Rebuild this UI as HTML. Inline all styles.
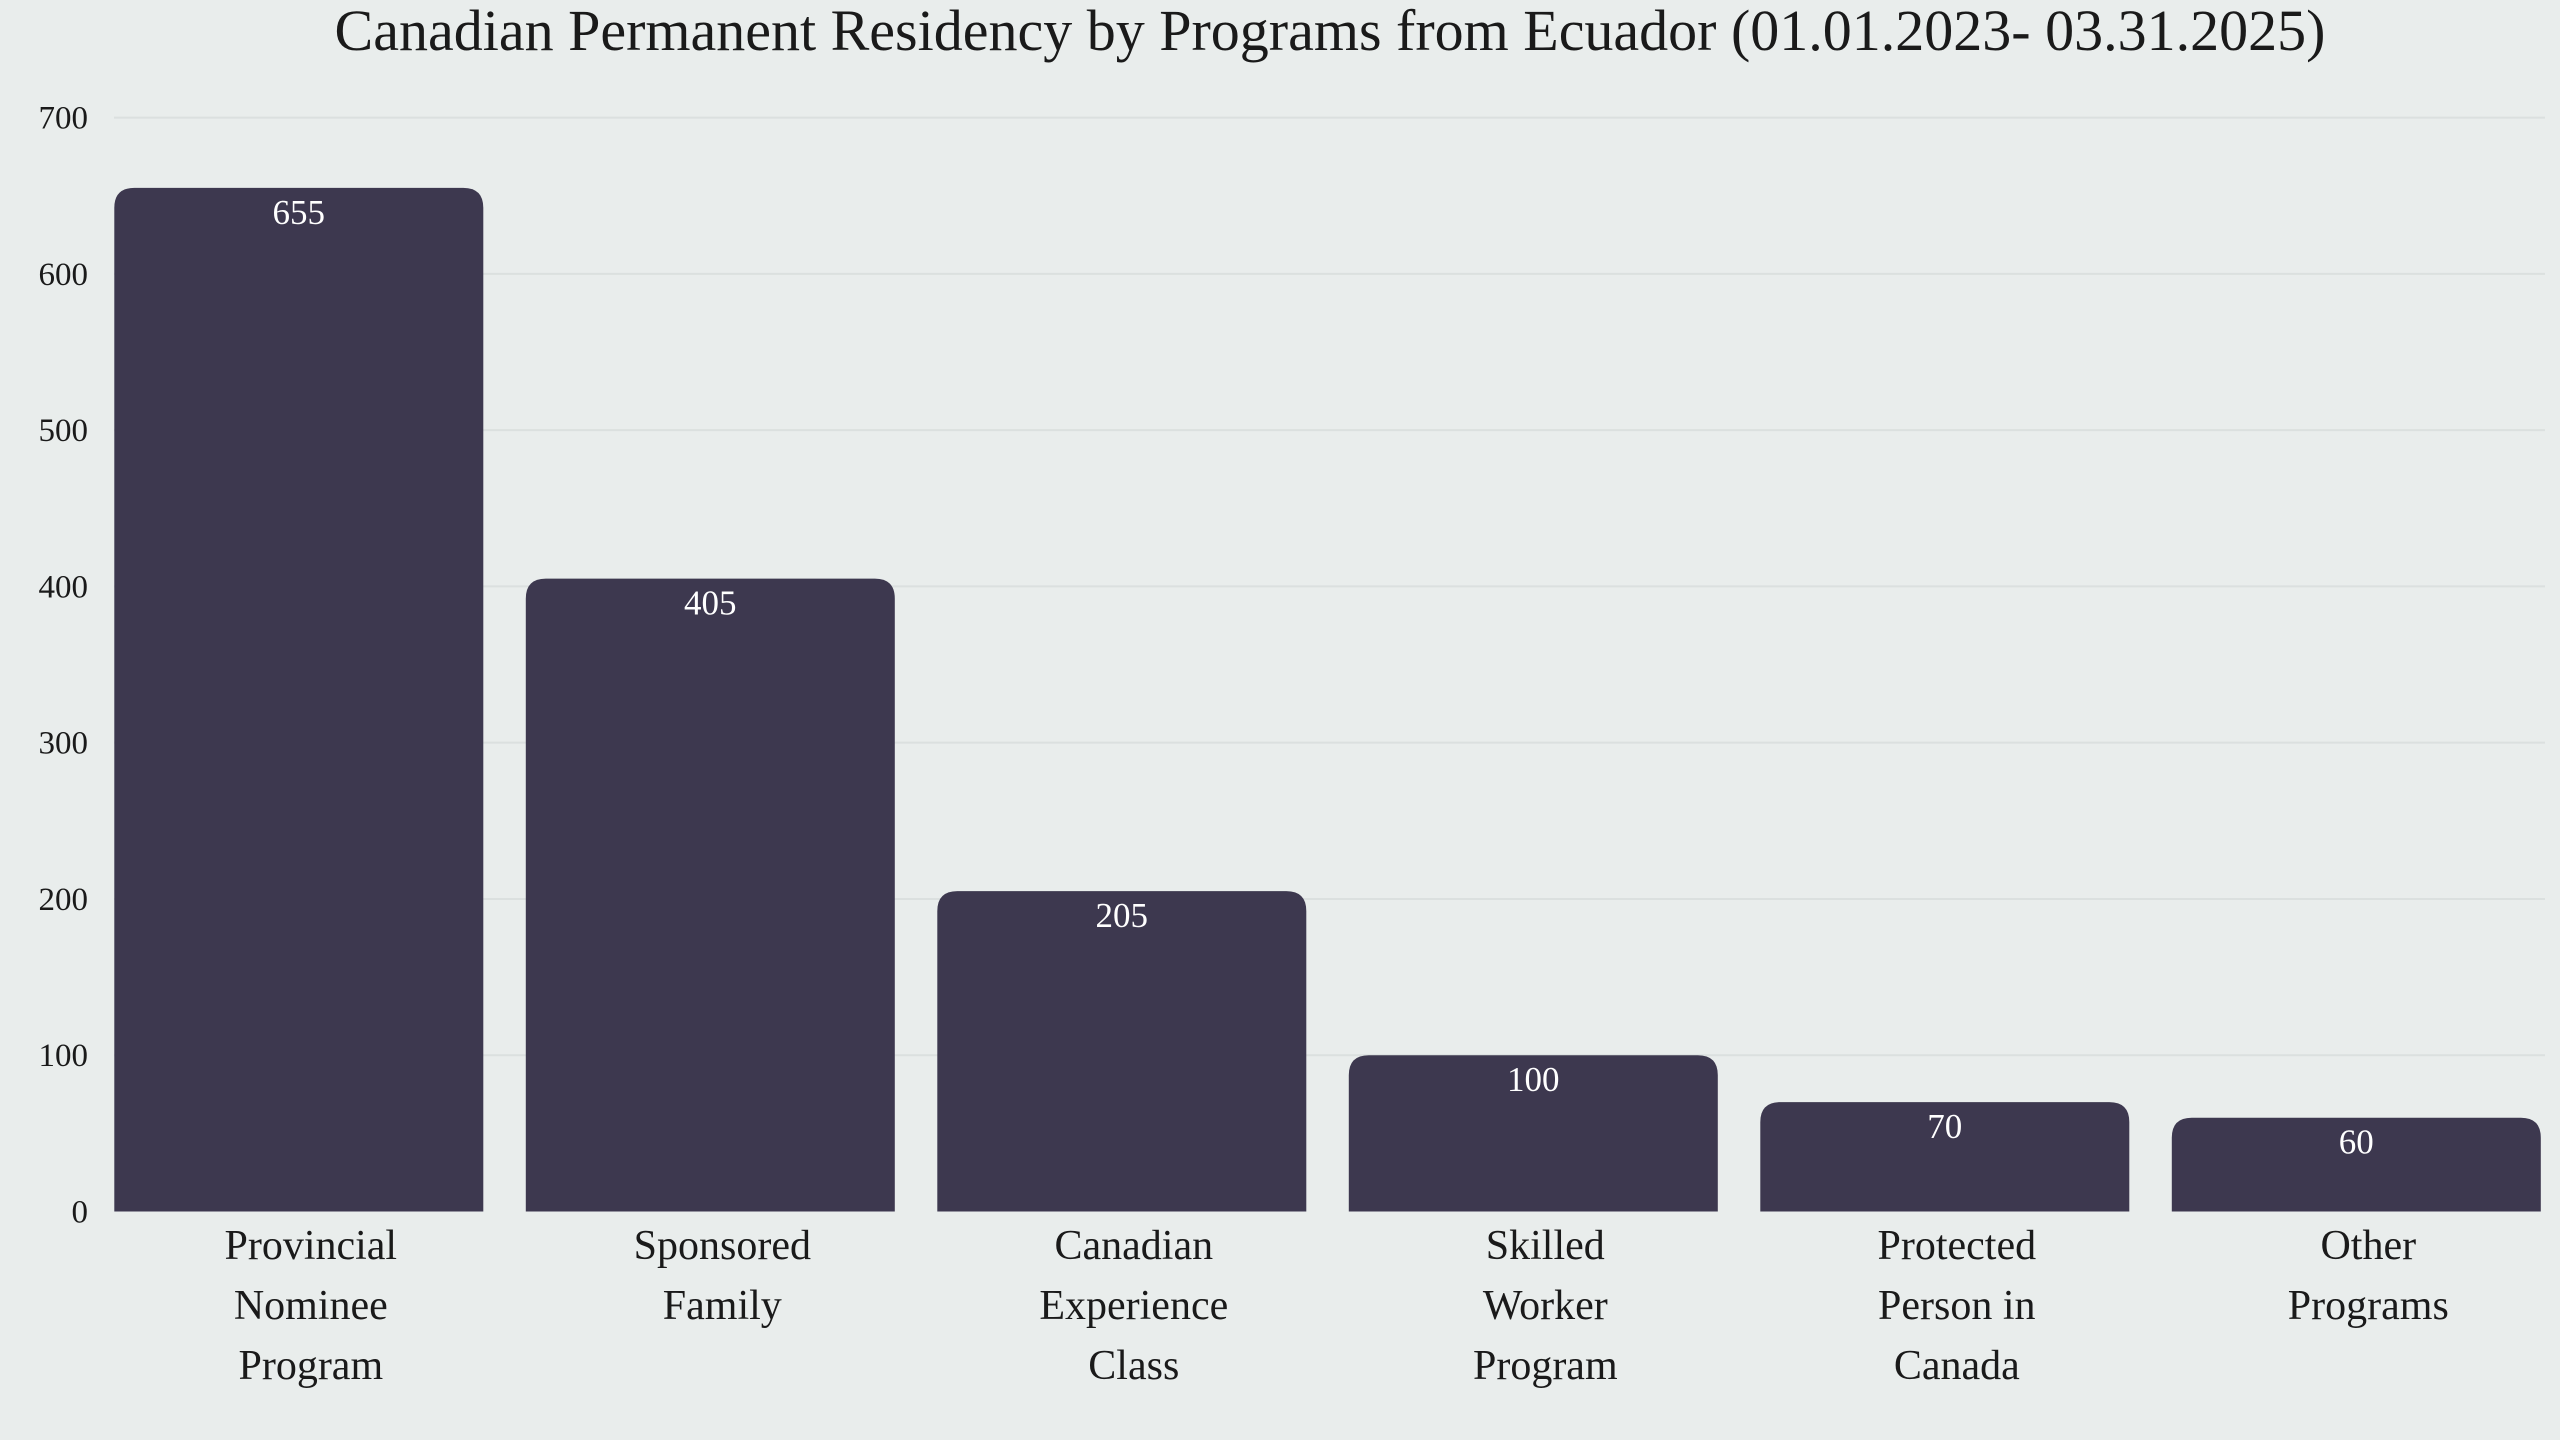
<!DOCTYPE html>
<html><head><meta charset="utf-8"><style>
html,body{margin:0;padding:0;background:#e9edec;}
svg{display:block;font-family:"Liberation Serif",serif;}
</style></head><body>
<svg id="chart" width="2560" height="1440" viewBox="0 0 2560 1440" xmlns="http://www.w3.org/2000/svg">
<rect width="2560" height="1440" fill="#e9edec"/>
<text x="1330" y="50" text-anchor="middle" font-size="58" fill="#1a1a1a">Canadian Permanent Residency by Programs from Ecuador (01.01.2023- 03.31.2025)</text>
<g id="grid"></g><g id="bars"></g><g id="labels"></g>
</svg>
<script>
const categories = [["Provincial","Nominee","Program"],["Sponsored","Family"],["Canadian","Experience","Class"],["Skilled","Worker","Program"],["Protected","Person in","Canada"],["Other","Programs"]];
const values = [655,405,205,100,70,60];
const ticks = [0,100,200,300,400,500,600,700];
const NS="http://www.w3.org/2000/svg";
const y0=1211.5, yTop=117.6, vmax=700;
const yScale=v=>y0-(y0-yTop)*v/vmax;
const x0=114.3, step=411.5, bw=369;
const xBand=i=>x0+i*step;
function mk(t,a,p){const e=document.createElementNS(NS,t);for(const k in a)e.setAttribute(k,a[k]);p.appendChild(e);return e;}
const grid=document.getElementById('grid'),bars=document.getElementById('bars'),labels=document.getElementById('labels');
ticks.forEach(t=>{
  const y=yScale(t);
  if(t>0){const l=mk('line',{x1:114,x2:2545,y1:y,y2:y,stroke:'#dbe0df','stroke-width':2},grid);
  
  }
  const tx=mk('text',{x:88,y:y+11,'text-anchor':'end','font-size':33,fill:'#1a1a1a'},grid);
  tx.textContent=t;
  
  
});
values.forEach((v,i)=>{
  const x=xBand(i), y=yScale(v), r=Math.min(20,(y0-y)/2), w=bw;
  const p=mk('path',{d:`M${x},${y0}V${y+r}Q${x},${y} ${x+r},${y}H${x+w-r}Q${x+w},${y} ${x+w},${y+r}V${y0}Z`,fill:'#3d384f'},bars);
  
  
  const vt=mk('text',{x:x+w/2,y:y+36,'text-anchor':'middle','font-size':35,fill:'#ffffff'},bars);
  vt.textContent=v;
  
  
  const lt=mk('text',{x:x+w/2+12,y:1259,'text-anchor':'middle','font-size':42,fill:'#1a1a1a'},labels);
  
  
  categories[i].forEach((line,j)=>{const ts=mk('tspan',{x:x+w/2+12,dy:j?60:0},lt);ts.textContent=line;});
});
</script>
</body></html>
